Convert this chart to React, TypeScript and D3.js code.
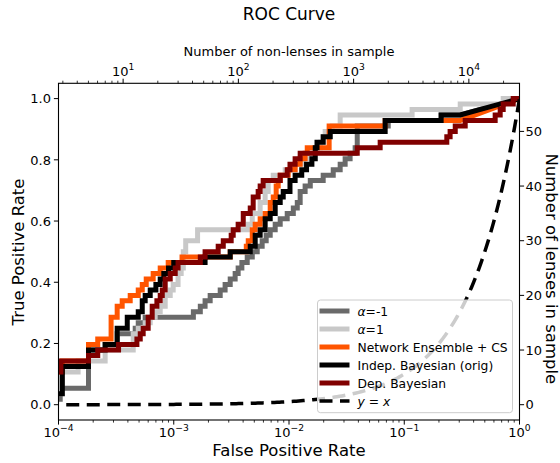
import React from 'react';
import * as d3 from 'd3';

// ---------- data ----------
const N_LENSES = 56;
const N_NONLENSES = 27500;

// alpha = -1
const alphaMinusFpr = [5e-5, 1.035e-4, 1.82e-4, 2.54e-4, 3.23e-4, 4.63e-4, 4.92e-4, 5.65e-4, 1.48e-3, 1.7e-3, 1.87e-3, 2.07e-3, 2.53e-3, 2.79e-3, 3.09e-3, 3.41e-3, 3.62e-3, 3.9e-3, 4.34e-3, 4.8e-3, 5.3e-3, 5.85e-3, 6.34e-3, 6.87e-3, 7.59e-3, 8.39e-3, 9.65e-3, 1.09e-2, 1.18e-2, 1.25e-2, 1.38e-2, 1.53e-2, 1.98e-2, 2.42e-2, 2.78e-2, 3.07e-2, 3.39e-2, 3.75e-2, 3.91e-2, 7.26e-2, 0.209, 0.306, 1.0];
const alphaMinusLenses = [1, 3, 10, 11, 13, 14, 15, 16, 17, 18, 19, 20, 21, 22, 23, 24, 25, 26, 27, 28, 29, 30, 31, 32, 33, 34, 35, 36, 37, 39, 40, 41, 42, 43, 44, 45, 46, 47, 51, 52, 53, 53, 56];

// alpha = 1
const alphaPlusFpr = [5e-5, 1.035e-4, 1.48e-4, 2.54e-4, 4.45e-4, 4.92e-4, 5.65e-4, 6.25e-4, 6.9e-4, 7.63e-4, 8.43e-4, 9.32e-4, 9.89e-4, 1.09e-3, 1.16e-3, 1.21e-3, 1.27e-3, 1.61e-3, 4.43e-3, 4.8e-3, 5.62e-3, 6.21e-3, 6.6e-3, 7.3e-3, 9.27e-3, 1.13e-2, 1.33e-2, 1.53e-2, 1.69e-2, 1.87e-2, 1.98e-2, 2.06e-2, 2.37e-2, 2.78e-2, 0.117, 0.306, 0.722, 1.0];
const alphaPlusLenses = [2, 6, 8, 10, 13, 14, 15, 16, 17, 18, 20, 21, 22, 24, 25, 28, 30, 32, 33, 35, 37, 39, 41, 42, 43, 44, 45, 46, 47, 48, 49, 50, 51, 53, 54, 55, 56, 56];

// Network Ensemble + CS
const ensembleFpr = [5e-5, 1.08e-4, 1.82e-4, 2.19e-4, 2.86e-4, 3.23e-4, 3.57e-4, 4.19e-4, 4.92e-4, 5.33e-4, 5.77e-4, 6.63e-4, 7.63e-4, 8.95e-4, 1.18e-3, 3.09e-3, 4.26e-3, 4.43e-3, 4.8e-3, 5.09e-3, 5.62e-3, 6.21e-3, 6.87e-3, 7.3e-3, 7.74e-3, 8.06e-3, 8.39e-3, 9.84e-3, 1.13e-2, 1.25e-2, 1.38e-2, 1.44e-2, 2.23e-2, 6.83e-2, 0.306, 1.0];
const ensembleLenses = [6, 8, 11, 12, 16, 18, 19, 20, 21, 22, 23, 24, 25, 26, 27, 28, 29, 30, 32, 33, 34, 35, 37, 38, 40, 41, 42, 43, 44, 45, 46, 47, 51, 52, 52, 56];

// Indep. Bayesian (orig)
const indepFpr = [5e-5, 1.08e-4, 1.82e-4, 2.54e-4, 3.23e-4, 3.95e-4, 4.92e-4, 5.33e-4, 5.65e-4, 6.25e-4, 7.0e-4, 7.63e-4, 8.2e-4, 9.0e-4, 1.0e-3, 1.87e-3, 3.09e-3, 4.61e-3, 5.09e-3, 5.62e-3, 6.21e-3, 6.87e-3, 7.59e-3, 8.39e-3, 8.91e-3, 1.02e-2, 1.13e-2, 1.29e-2, 1.42e-2, 1.58e-2, 1.69e-2, 1.75e-2, 1.98e-2, 2.28e-2, 6.83e-2, 0.209, 0.306, 1.0];
const indepLenses = [2, 7, 10, 11, 14, 16, 17, 19, 20, 21, 22, 23, 24, 25, 26, 27, 28, 29, 31, 32, 34, 35, 37, 38, 39, 41, 42, 43, 44, 45, 47, 48, 49, 50, 52, 53, 53, 56];

// Dep. Bayesian
const depFpr = [5e-5, 1.05e-4, 1.82e-4, 2.19e-4, 3.32e-4, 4.79e-4, 5.12e-4, 5.43e-4, 6.0e-4, 6.5e-4, 7.14e-4, 7.63e-4, 7.95e-4, 8.43e-4, 9.32e-4, 1.03e-3, 1.09e-3, 1.7e-3, 1.87e-3, 2.43e-3, 2.69e-3, 3.15e-3, 3.28e-3, 3.62e-3, 4.01e-3, 4.61e-3, 4.89e-3, 5.4e-3, 5.62e-3, 5.97e-3, 8.39e-3, 9.65e-3, 1.02e-2, 1.13e-2, 1.25e-2, 3.91e-2, 6.18e-2, 0.234, 0.25, 0.277, 0.338, 0.615, 0.68, 0.722, 0.882, 1.0];
const depLenses = [6, 8, 9, 10, 11, 12, 13, 14, 16, 18, 19, 20, 21, 23, 24, 25, 26, 27, 28, 29, 30, 31, 32, 33, 35, 36, 38, 39, 40, 41, 42, 43, 44, 45, 46, 47, 48, 49, 50, 51, 52, 53, 54, 55, 56, 56];

const seriesNames = ['α=-1', 'α=1', 'Network Ensemble + CS', 'Indep. Bayesian (orig)', 'Dep. Bayesian'];
const seriesColors = ['#6a6a6a', '#c8c8c8', '#ff5500', '#000000', '#800000'];

const xMajorTicks = [1e-4, 1e-3, 1e-2, 1e-1, 1];
const xMajorExps = ['−4', '−3', '−2', '−1', '0'];
const yTicks = [0, 0.2, 0.4, 0.6, 0.8, 1.0];
const lensTicks = [0, 10, 20, 30, 40, 50];
const topMajorTicks = [1e1, 1e2, 1e3, 1e4];
const topMajorExps = ['1', '2', '3', '4'];

// ---------- layout ----------
const W = 560, H = 463;
const L = 58.5, R = 519.5, T = 83.3, B = 420;
const FONT = 'DejaVu Sans, Verdana, sans-serif';

const x = d3.scaleLog().domain([1e-4, 1]).range([L, R]);
const y = d3.scaleLinear().domain([-0.05, 1.05]).range([B, T]);
const xTop = d3.scaleLog().domain([1e-4 * N_NONLENSES, N_NONLENSES]).range([L, R]);
const yRight = d3.scaleLinear().domain([-0.05 * N_LENSES, 1.05 * N_LENSES]).range([B, T]);

function staircase(fpr: number[], lenses: number[]): [number, number][] {
  const n = fpr.length;
  const pts: [number, number][] = [[fpr[0], lenses[0]]];
  for (let i = 1; i < n - 1; i++) {
    pts.push([fpr[i], lenses[i - 1]]);
    pts.push([fpr[i], lenses[i]]);
  }
  pts.push([fpr[n - 1], lenses[n - 1]]);
  return pts;
}

const line = d3.line<[number, number]>()
  .x(d => x(d[0]))
  .y(d => yRight(d[1]));

const seriesData = [
  staircase(alphaMinusFpr, alphaMinusLenses),
  staircase(alphaPlusFpr, alphaPlusLenses),
  staircase(ensembleFpr, ensembleLenses),
  staircase(indepFpr, indepLenses),
  staircase(depFpr, depLenses),
];

// reference line y = x
const diagX = d3.range(0, 241).map(i => Math.pow(10, -5 + (5 * i) / 240));
const diagLine = d3.line<number>().x(d => x(d)).y(d => y(d));

const minorBottom: number[] = [];
for (let e = -4; e < 0; e++) for (let m = 2; m <= 9; m++) minorBottom.push(m * Math.pow(10, e));
const minorTop: number[] = [];
for (let e = 0; e <= 4; e++) for (let m = 2; m <= 9; m++) {
  const v = m * Math.pow(10, e);
  if (v >= xTop.domain()[0] && v <= xTop.domain()[1]) minorTop.push(v);
}

export default function App() {
  const legendX = 317.5, legendY = 300, legendW = 195, legendH = 112.7;
  const entryY0 = 311, entryStep = 18;
  return (
    <svg width={W} height={H} style={{ position: 'absolute', left: 0, top: 0, background: '#fff' }} fontFamily={FONT}>
      <defs>
        <clipPath id="plotClip">
          <rect x={L} y={T} width={R - L} height={B - T} />
        </clipPath>
      </defs>
      <rect x={0} y={0} width={W} height={H} fill="#fff" />

      {/* title */}
      <text x={(L + R) / 2} y={20} textAnchor="middle" fontSize={17}>ROC Curve</text>

      {/* curves */}
      <g clipPath="url(#plotClip)">
        {seriesData.map((pts, i) => (
          <path key={i} d={line(pts) || ''} fill="none" stroke={seriesColors[i]} strokeWidth={5} strokeLinejoin="miter" strokeLinecap="butt" />
        ))}
        <path d={diagLine(diagX) || ''} fill="none" stroke="#000" strokeWidth={3.5} strokeDasharray="13,7.5" />
      </g>

      {/* frame */}
      <rect x={L} y={T} width={R - L} height={B - T} fill="none" stroke="#000" strokeWidth={1.1} />

      {/* bottom axis */}
      {minorBottom.map((v, i) => (
        <line key={'bm' + i} x1={x(v)} x2={x(v)} y1={B} y2={B + 2.6} stroke="#000" strokeWidth={0.8} />
      ))}
      {xMajorTicks.map((v, i) => (
        <g key={'bM' + i}>
          <line x1={x(v)} x2={x(v)} y1={B} y2={B + 4.6} stroke="#000" strokeWidth={1} />
          <text x={x(v)} y={437} textAnchor="middle" fontSize={13}>
            10<tspan dy={-6.5} fontSize={9.2}>{xMajorExps[i]}</tspan>
          </text>
        </g>
      ))}
      <text x={(L + R) / 2} y={456} textAnchor="middle" fontSize={16.5}>False Positive Rate</text>

      {/* top axis */}
      {minorTop.map((v, i) => (
        <line key={'tm' + i} x1={xTop(v)} x2={xTop(v)} y1={T} y2={T - 2.6} stroke="#000" strokeWidth={0.8} />
      ))}
      {topMajorTicks.map((v, i) => (
        <g key={'tM' + i}>
          <line x1={xTop(v)} x2={xTop(v)} y1={T} y2={T - 4.6} stroke="#000" strokeWidth={1} />
          <text x={xTop(v)} y={76} textAnchor="middle" fontSize={13}>
            10<tspan dy={-6.5} fontSize={9.2}>{topMajorExps[i]}</tspan>
          </text>
        </g>
      ))}
      <text x={(L + R) / 2} y={56} textAnchor="middle" fontSize={13}>Number of non-lenses in sample</text>

      {/* left axis */}
      {yTicks.map((v, i) => (
        <g key={'l' + i}>
          <line x1={L} x2={L - 4.6} y1={y(v)} y2={y(v)} stroke="#000" strokeWidth={1} />
          <text x={L - 7.5} y={y(v) + 4.7} textAnchor="end" fontSize={13}>{v.toFixed(1)}</text>
        </g>
      ))}
      <text transform={`translate(24,252) rotate(-90)`} textAnchor="middle" fontSize={16.5}>True Positive Rate</text>

      {/* right axis */}
      {lensTicks.map((v, i) => (
        <g key={'r' + i}>
          <line x1={R} x2={R + 4.6} y1={yRight(v)} y2={yRight(v)} stroke="#000" strokeWidth={1} />
          <text x={R + 6} y={yRight(v) + 4.7} textAnchor="start" fontSize={13}>{v}</text>
        </g>
      ))}
      <text transform={`translate(546,153.5) rotate(90)`} textAnchor="start" fontSize={16.5}>Number of lenses in sample</text>

      {/* legend */}
      <g>
        <rect x={legendX} y={legendY} width={legendW} height={legendH} rx={3} ry={3} fill="#fff" fillOpacity={0.8} stroke="#cccccc" strokeWidth={1} />
        {seriesNames.map((name, i) => {
          const yy = entryY0 + i * entryStep;
          return (
            <g key={'lg' + i}>
              <line x1={319.5} x2={349.5} y1={yy} y2={yy} stroke={seriesColors[i]} strokeWidth={5} />
              <text x={357.5} y={yy + 4.5} fontSize={12.3}>
                {i < 2 ? (<><tspan fontStyle="italic">α</tspan>{name.slice(1)}</>) : name}
              </text>
            </g>
          );
        })}
        {(() => {
          const yy = entryY0 + 5 * entryStep;
          return (
            <g>
              <line x1={319.5} x2={349.5} y1={yy} y2={yy} stroke="#000" strokeWidth={3.5} strokeDasharray="13,7.5" />
              <text x={357.5} y={yy + 4.5} fontSize={12.3}>
                <tspan fontStyle="italic">y</tspan> = <tspan fontStyle="italic">x</tspan>
              </text>
            </g>
          );
        })()}
      </g>
    </svg>
  );
}
